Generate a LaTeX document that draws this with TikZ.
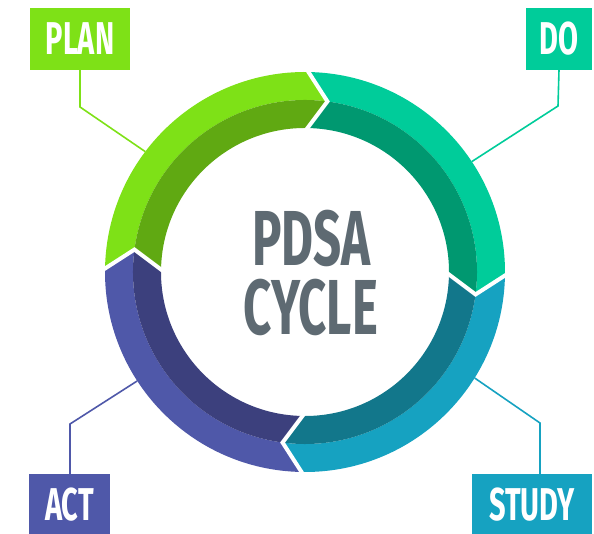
\documentclass[tikz,border=0pt]{standalone}
\usepackage{fontspec}
\usetikzlibrary{calc}
\newfontfamily\bebas{Fira Sans}[FakeStretch=0.63]

\definecolor{planlite}{HTML}{7EE117}
\definecolor{plandark}{HTML}{60A912}
\definecolor{dolite}{HTML}{00CC9A}
\definecolor{dodark}{HTML}{009870}
\definecolor{studylite}{HTML}{16A2C1}
\definecolor{studydark}{HTML}{12778B}
\definecolor{actlite}{HTML}{4F58A9}
\definecolor{actdark}{HTML}{3C407D}
\definecolor{pdsagray}{HTML}{5E6A72}

% ring radii and chevron offset
\def\Ro{200pt}
\def\Rm{172pt}
\def\Ri{144pt}
\def\d{6.5}

\begin{document}
\begin{tikzpicture}[
  x=1pt,y=1pt,
  tag/.style={inner sep=0pt,minimum height=62pt,text=white,
    font=\bebas\bfseries\fontsize{46}{46}\selectfont},
  lead/.style={line width=1.6pt},
  gap/.style={white,line width=4pt,line join=miter},
  big/.style={text=pdsagray,inner sep=0pt,text height=54pt,text depth=0pt,
    font=\bebas\bfseries\fontsize{78}{78}\selectfont}
]
\useasboundingbox (-305,-262) rectangle (289,272);

% phase labels
\node[tag,fill=planlite,minimum width=100pt]  (plan)  at (-225,233)   {PLAN};
\node[tag,fill=dolite,minimum width=66pt]     (do)    at (254,233)    {DO};
\node[tag,fill=actlite,minimum width=81pt]    (act)   at (-235.5,-233) {ACT};
\node[tag,fill=studylite,minimum width=120pt] (study) at (227,-233)   {STUDY};

% leader lines from labels to the ring
\coordinate (plan-bend)  at (-225,165);
\coordinate (do-bend)    at (253,166);
\coordinate (study-bend) at (235,-151);
\coordinate (act-bend)   at (-235,-152);
\coordinate (plan-end)   at (143:\Ro);
\coordinate (do-end)     at (33.5:\Ro);
\coordinate (study-end)  at (-32:\Ro);
\coordinate (act-end)    at (213:\Ro);

\draw[lead,planlite]  (plan.south) -- (plan-bend) -- (plan-end);
\draw[lead,dolite]    (do.south |- 0,202) -- (do-bend) -- (do-end);
\draw[lead,studylite] (study-bend |- study.north) -- (study-bend) -- (study-end);
\draw[lead,actlite]   (act-bend |- act.north) -- (act-bend) -- (act-end);

% ring segments, clockwise, outer band light and inner band dark
\foreach \a/\lite/\dark in {179/planlite/plandark, 89/dolite/dodark,
                            -1/studylite/studydark, -91/actlite/actdark}{
  \pgfmathsetmacro\b{\a-90}
  \fill[\lite] (\a:\Ro) arc[start angle=\a,end angle=\b,radius=\Ro]
    -- ({\b-\d}:\Rm) arc[start angle=\b-\d,end angle=\a-\d,radius=\Rm] -- cycle;
  \fill[\dark] ({\a-\d}:\Rm) arc[start angle=\a-\d,end angle=\b-\d,radius=\Rm]
    -- (\b:\Ri) arc[start angle=\b,end angle=\a,radius=\Ri] -- cycle;
}

% white cuts between the arrows
\foreach \a in {179,89,-1,-91}
  \draw[gap] ($({\a-\d}:\Rm)!1.3!(\a:\Ro)$) -- ({\a-\d}:\Rm)
    -- ($({\a-\d}:\Rm)!1.3!(\a:\Ri)$);

% title in the middle
\node[big] (title-top) at (6.5,33.5)  {PDSA};
\node[big] (title-bot) at (6,-35.5)   {CYCLE};
\end{tikzpicture}
\end{document}
